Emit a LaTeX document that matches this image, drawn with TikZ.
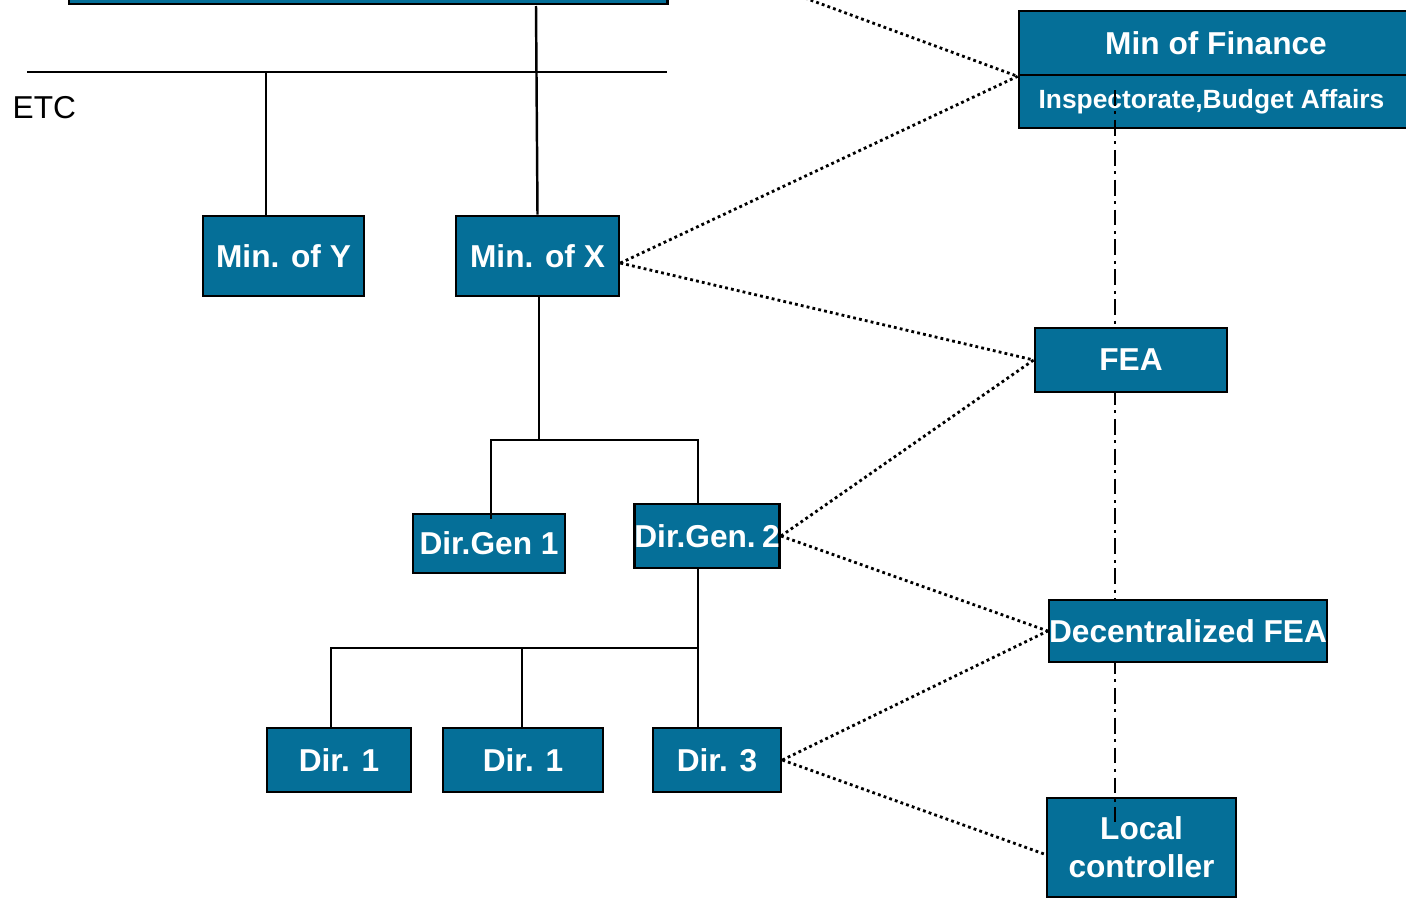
\documentclass[tikz,border=0pt]{standalone}
\usepackage{fontspec}
\setmainfont{Liberation Sans}
\definecolor{blubox}{RGB}{5,111,152}
\tikzset{
    ente/.style={draw=black, line width=0.75pt, fill=blubox, text=white, inner sep=0pt,
        font=\fontsize{9}{10.8}\selectfont\bfseries, align=center},
    org/.style={line width=0.7pt},
    link/.style={line width=0.8pt, dash pattern=on 0.8pt off 0.9pt},
    ctrl/.style={line width=0.8pt, dash pattern=on 4.5pt off 1.6pt on 0.8pt off 1.6pt}
}
\begin{document}
\begin{tikzpicture}[x=0.01cm, y=-0.01cm]
    \useasboundingbox (0,0) rectangle (1406,900);

    % Governo (tagliato in alto)
    \node[ente, minimum width=5.98cm, minimum height=0.5cm] (gov) at (368,-21) {};

    % Ministeri
    \node[ente, minimum width=1.61cm, minimum height=0.8cm] (minY) at (283.5,256) {Min. of Y};
    \node[ente, minimum width=1.63cm, minimum height=0.8cm] (minX) at (537.5,256) {Min. of X};
    \node[anchor=west, font=\fontsize{9}{10.8}\selectfont, inner sep=0pt] (etc) at (12,108) {ETC};

    % Direzioni generali
    \node[ente, minimum width=1.52cm, minimum height=0.59cm] (dg1) at (489,543.5) {Dir.Gen 1};
    \node[ente, minimum width=1.44cm, minimum height=0.64cm] (dg2) at (707,536) {Dir.Gen.\hspace{0.2em}2};

    % Direzioni
    \node[ente, minimum width=1.44cm, minimum height=0.64cm] (d1a) at (339,760) {Dir. 1};
    \node[ente, minimum width=1.60cm, minimum height=0.64cm] (d1b) at (523,760) {Dir. 1};
    \node[ente, minimum width=1.28cm, minimum height=0.64cm] (d3) at (717,760) {Dir. 3};

    % Controllo finanziario
    \node[ente, minimum width=3.94cm, minimum height=0.64cm] (fin) at (1216,43) {Min of Finance};
    \node[ente, minimum width=3.94cm, minimum height=0.53cm,
          font=\fontsize{7.5}{9}\selectfont\bfseries] (insp) at (1216,101.5) {Inspectorate,Budget Affairs\hspace*{0.09cm}};
    \node[ente, minimum width=1.89cm, minimum height=0.99cm] (loc) at (1141.5,847.5) {Local\\controller};

    \coordinate (cTop) at (1115,90);
    \coordinate (cBot) at (1115,822);
    \draw[ctrl] (cTop) -- (cBot);

    \node[ente, minimum width=1.92cm, minimum height=0.64cm] (fea) at (1131,360) {FEA};
    \node[ente, minimum width=2.74cm, minimum height=0.62cm] (dfea) at (1188,631) {Decentralized FEA};

    % Linee gerarchiche
    \coordinate (busL) at (27,72);
    \coordinate (busR) at (667,72);
    \coordinate (busY) at (266,72);
    \coordinate (govX) at (536,6);
    \coordinate (jX) at (539,440);
    \coordinate (jG1) at (491,440);
    \coordinate (jG2) at (698,440);
    \coordinate (jD1) at (331,648);
    \coordinate (jD2) at (522,648);
    \coordinate (jD3) at (698,648);

    \draw[org] (busL) -- (busR);
    \draw[org] (busY) -- (busY |- minY.north);
    \draw[org] (govX) -- (minX.north);
    \draw[org] (minX.south -| jX) -- (jX);
    \draw[org] ([yshift=-1.8pt]jG1 |- dg1.north) -- (jG1) -- (jG2) -- (jG2 |- dg2.north);
    \draw[org] (jG2 |- dg2.south) -- (jD3) -- (jD3 |- d3.north);
    \draw[org] (jD1 |- d1a.north) -- (jD1) -- (jD3);
    \draw[org] (jD2) -- (jD2 |- d1b.north);

    % Collegamenti di controllo (punteggiati)
    \coordinate (offTop) at (805,-2);
    \draw[link] (offTop) -- (fin.south west);
    \draw[link] ([yshift=-2pt]minX.east) -- (fin.south west);
    \draw[link] ([yshift=-2pt]minX.east) -- (fea.west);
    \draw[link] (dg2.east) -- (fea.west);
    \draw[link] (dg2.east) -- (dfea.west);
    \draw[link] (d3.east) -- (dfea.west);
    \draw[link] (d3.east) -- ([yshift=-2pt]loc.west);
\end{tikzpicture}
\end{document}
